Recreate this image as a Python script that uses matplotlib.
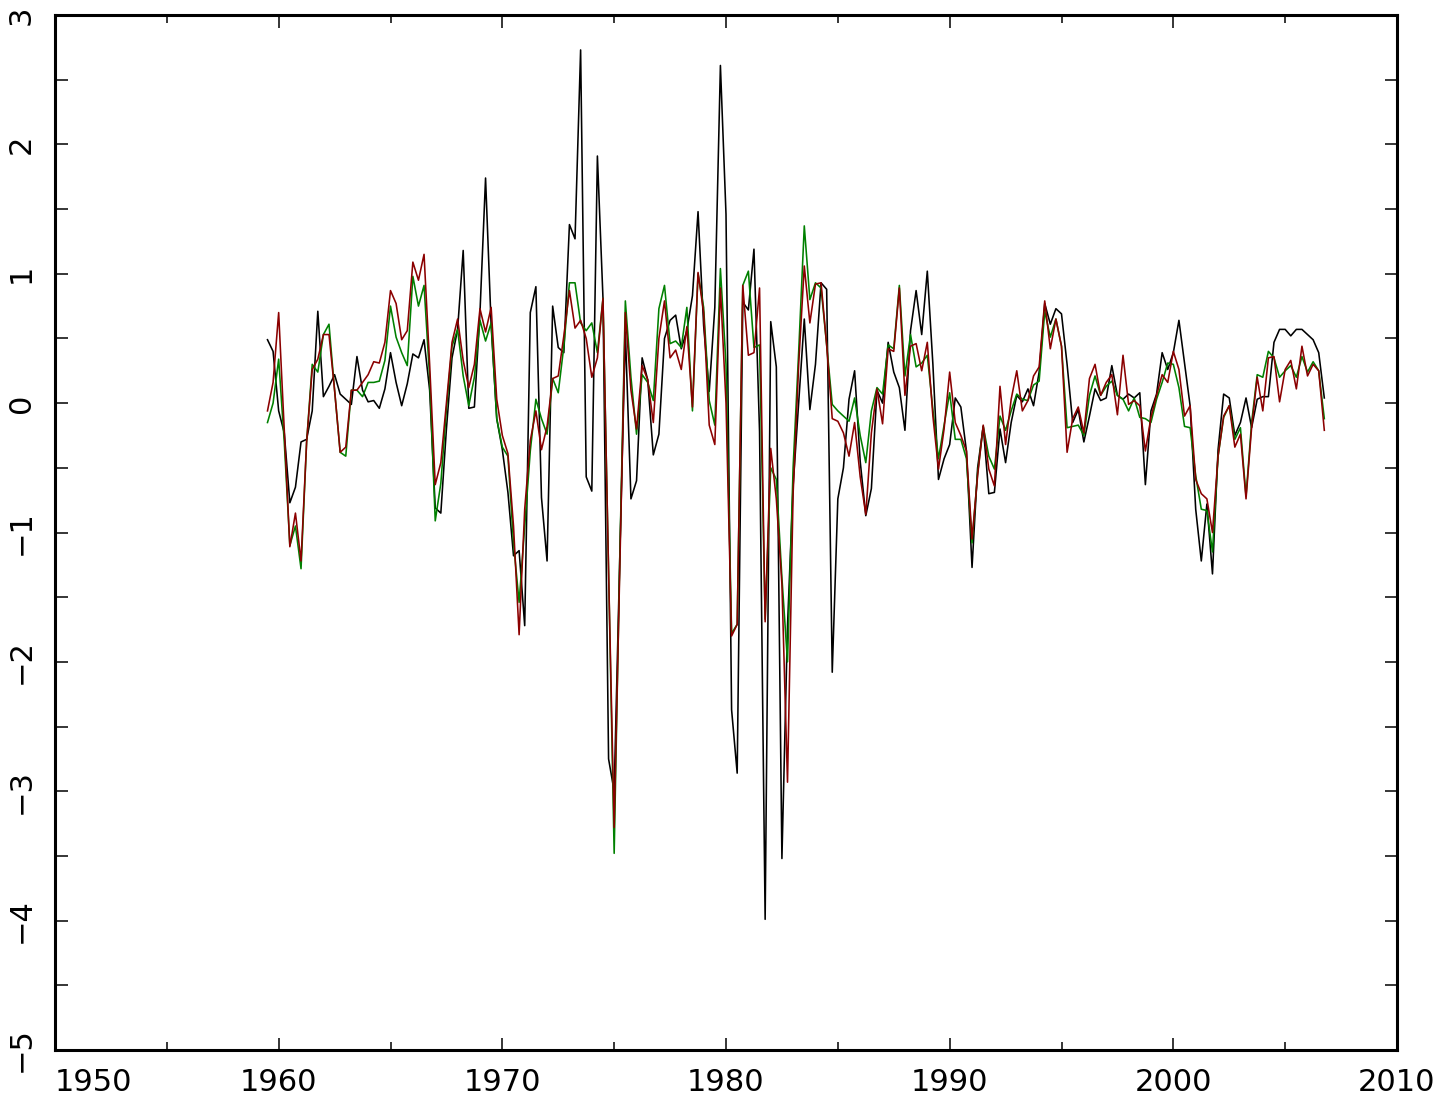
import numpy as np
import matplotlib
matplotlib.use("Agg")
import matplotlib.pyplot as plt
from matplotlib.ticker import MultipleLocator

# quarterly series starting 1959Q3
start_year = 1959.5

black_vals = [
    0.49, 0.40, -0.06, -0.23, -0.77, -0.65, -0.30, -0.28, -0.06, 0.71,
    0.05, 0.13, 0.22, 0.07, 0.03, -0.01, 0.36, 0.10, 0.01, 0.02,
    -0.04, 0.11, 0.39, 0.16, -0.02, 0.15, 0.38, 0.35, 0.49, 0.10,
    -0.81, -0.85, -0.20, 0.35, 0.57, 1.18, -0.04, -0.03, 0.70, 1.74,
    0.60, -0.12, -0.36, -0.69, -1.18, -1.14, -1.72, 0.70, 0.90, -0.73,
    -1.22, 0.75, 0.43, 0.39, 1.38, 1.27, 2.73, -0.57, -0.68, 1.91,
    0.81, -2.75, -3.00, -1.20, 0.55, -0.74, -0.60, 0.35, 0.18, -0.40,
    -0.24, 0.50, 0.64, 0.68, 0.42, 0.56, 0.83, 1.48, 0.60, 0.09,
    0.74, 2.61, 1.46, -2.37, -2.86, 0.78, 0.72, 1.19, -0.22, -3.99,
    0.63, 0.28, -3.52, -1.72, -0.64, 0.00, 0.65, -0.05, 0.30, 0.93,
    0.88, -2.08, -0.74, -0.50, 0.03, 0.25, -0.45, -0.87, -0.66, 0.10,
    0.00, 0.47, 0.24, 0.12, -0.21, 0.56, 0.87, 0.53, 1.02, 0.30,
    -0.59, -0.43, -0.32, 0.04, -0.03, -0.37, -1.27, -0.50, -0.18, -0.70,
    -0.69, -0.20, -0.46, -0.15, 0.06, 0.01, 0.11, -0.02, 0.24, 0.77,
    0.61, 0.73, 0.69, 0.30, -0.15, -0.05, -0.30, -0.10, 0.11, 0.02,
    0.04, 0.29, 0.06, 0.03, 0.07, 0.04, 0.08, -0.63, -0.06, 0.07,
    0.39, 0.26, 0.39, 0.64, 0.31, -0.02, -0.82, -1.22, -0.78, -1.32,
    -0.36, 0.07, 0.04, -0.25, -0.15, 0.04, -0.19, 0.03, 0.05, 0.05,
    0.47, 0.57, 0.57, 0.52, 0.57, 0.57, 0.53, 0.49, 0.39, 0.04,
]

green_vals = [
    -0.15, 0.00, 0.34, -0.30, -1.10, -0.95, -1.28, -0.30, 0.30, 0.24,
    0.53, 0.61, 0.10, -0.38, -0.41, 0.10, 0.10, 0.05, 0.16, 0.16,
    0.17, 0.33, 0.75, 0.51, 0.39, 0.29, 0.98, 0.75, 0.91, 0.20,
    -0.91, -0.62, -0.05, 0.44, 0.57, 0.21, -0.02, 0.20, 0.64, 0.48,
    0.62, -0.12, -0.34, -0.41, -1.08, -1.54, -0.95, -0.37, 0.03, -0.12,
    -0.24, 0.19, 0.08, 0.44, 0.93, 0.93, 0.62, 0.56, 0.62, 0.39,
    0.81, -1.30, -3.48, -1.20, 0.79, 0.20, -0.24, 0.22, 0.16, 0.02,
    0.73, 0.91, 0.46, 0.48, 0.43, 0.74, -0.06, 1.00, 0.74, 0.02,
    -0.17, 1.04, 0.30, -1.78, -1.71, 0.91, 1.02, 0.43, 0.45, -1.67,
    -0.50, -0.59, -1.35, -2.00, -0.50, 0.40, 1.37, 0.80, 0.93, 0.89,
    0.45, -0.01, -0.06, -0.10, -0.14, 0.04, -0.25, -0.46, -0.06, 0.12,
    0.07, 0.45, 0.42, 0.91, 0.21, 0.53, 0.28, 0.31, 0.37, -0.05,
    -0.43, -0.17, 0.08, -0.28, -0.28, -0.43, -1.08, -0.54, -0.18, -0.41,
    -0.51, -0.10, -0.21, -0.06, 0.07, 0.03, 0.02, 0.14, 0.17, 0.71,
    0.51, 0.65, 0.44, -0.19, -0.18, -0.17, -0.25, 0.06, 0.21, 0.06,
    0.13, 0.17, 0.06, 0.03, -0.06, 0.04, -0.11, -0.12, -0.15, 0.03,
    0.16, 0.31, 0.30, 0.12, -0.18, -0.19, -0.56, -0.82, -0.83, -1.15,
    -0.41, -0.11, -0.02, -0.28, -0.19, -0.72, -0.15, 0.22, 0.20, 0.40,
    0.35, 0.20, 0.25, 0.29, 0.20, 0.36, 0.24, 0.32, 0.25, -0.12,
]

red_vals = [
    -0.06, 0.16, 0.70, -0.20, -1.11, -0.85, -1.22, -0.30, 0.26, 0.34,
    0.53, 0.53, 0.10, -0.38, -0.34, 0.10, 0.10, 0.16, 0.22, 0.32,
    0.31, 0.47, 0.87, 0.77, 0.49, 0.56, 1.09, 0.95, 1.15, 0.30,
    -0.63, -0.46, 0.00, 0.47, 0.65, 0.33, 0.12, 0.30, 0.73, 0.55,
    0.74, 0.03, -0.25, -0.39, -0.95, -1.79, -0.82, -0.29, -0.06, -0.36,
    -0.18, 0.19, 0.21, 0.52, 0.87, 0.58, 0.64, 0.50, 0.20, 0.35,
    0.81, -1.30, -3.28, -1.30, 0.70, 0.10, -0.20, 0.29, 0.18, -0.15,
    0.50, 0.79, 0.35, 0.41, 0.26, 0.59, -0.03, 1.01, 0.70, -0.17,
    -0.32, 0.89, 0.00, -1.80, -1.71, 0.91, 0.37, 0.39, 0.89, -1.69,
    -0.35, -0.74, -1.40, -2.93, -0.70, 0.30, 1.06, 0.62, 0.92, 0.93,
    0.45, -0.12, -0.14, -0.23, -0.41, -0.15, -0.57, -0.86, -0.23, 0.11,
    -0.16, 0.42, 0.40, 0.89, 0.06, 0.44, 0.46, 0.25, 0.47, -0.10,
    -0.51, -0.20, 0.24, -0.15, -0.25, -0.37, -1.05, -0.56, -0.17, -0.51,
    -0.64, 0.13, -0.32, 0.03, 0.25, -0.06, 0.02, 0.21, 0.28, 0.79,
    0.42, 0.65, 0.44, -0.38, -0.12, -0.03, -0.23, 0.19, 0.30, 0.06,
    0.16, 0.22, -0.09, 0.37, -0.01, 0.02, -0.02, -0.37, -0.11, 0.06,
    0.22, 0.16, 0.40, 0.26, -0.10, -0.02, -0.59, -0.70, -0.74, -1.00,
    -0.41, -0.10, -0.02, -0.34, -0.24, -0.74, -0.19, 0.20, -0.06, 0.35,
    0.36, 0.01, 0.26, 0.33, 0.11, 0.44, 0.21, 0.30, 0.25, -0.21,
]

x_ticks = [1950, 1960, 1970, 1980, 1990, 2000, 2010]
x_tick_labels = ["1950", "1960", "1970", "1980", "1990", "2000", "2010"]
y_ticks = [-5, -4, -3, -2, -1, 0, 1, 2, 3]
y_tick_labels = ["\u22125", "\u22124", "\u22123", "\u22122", "\u22121", "0", "1", "2", "3"]

n = len(black_vals)
dates = start_year + 0.25 * np.arange(n)

W, H = 1444, 1101
fig = plt.figure(figsize=(W / 100, H / 100), dpi=100)
ax = fig.add_axes([55 / W, 51 / H, 1342 / W, 1035 / H])

lw = 1.15
ax.plot(dates, black_vals, color="black", lw=lw, zorder=3)
ax.plot(dates, green_vals, color="#008000", lw=lw, zorder=4)
ax.plot(dates, red_vals, color="#8b0000", lw=lw, zorder=5)

ax.set_xlim(1950, 2010)
ax.set_ylim(-5, 3)

ax.set_xticks(x_ticks)
ax.set_xticklabels(x_tick_labels)
ax.set_yticks(y_ticks)
ax.set_yticklabels(y_tick_labels, rotation=90, va="center")
ax.xaxis.set_minor_locator(MultipleLocator(5))
ax.yaxis.set_minor_locator(MultipleLocator(0.5))

for sp in ax.spines.values():
    sp.set_linewidth(2.2)

ax.tick_params(axis="both", which="both", direction="in", top=True, right=True,
               width=1.1, labelsize=22)
ax.tick_params(axis="x", which="major", length=9, pad=13)
ax.tick_params(axis="x", which="minor", length=6)
ax.tick_params(axis="y", which="major", length=9, pad=14)
ax.tick_params(axis="y", which="minor", length=9)

for lab in ax.get_xticklabels():
    if lab.get_text() == "1950":
        lab.set_horizontalalignment("left")

fig.savefig("out.png", dpi=100)
